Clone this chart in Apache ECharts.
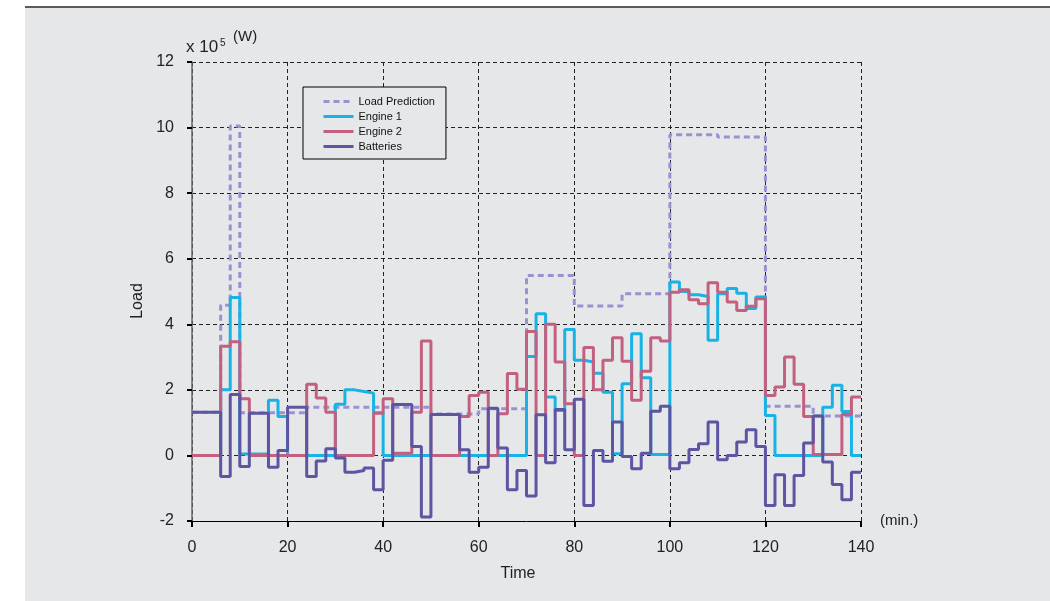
<!DOCTYPE html>
<html>
<head>
<meta charset="utf-8">
<script src="https://cdn.jsdelivr.net/npm/echarts@6/dist/echarts.min.js"></script>
<style>
  html, body { margin: 0; padding: 0; background: #ffffff; }
  #bg { position: absolute; left: 25px; top: 6px; width: 1025px; height: 595px; background: #e6e7e9; border-top: 2px solid #5a5a5a; }
  #chart { position: absolute; left: 0; top: 0; width: 1050px; height: 601px; }
</style>
</head>
<body>
<div id="bg"></div>
<div id="chart"></div>
<script>
// Step boundaries (minutes)
const stepTimes = [0,2,4,6,8,10,12,14,16,18,20,22,24,26,28,30,32,34,36,38,40,42,44,46,48,50,52,54,56,58,60,62,64,66,68,70,72,74,76,78,80,82,84,86,88,90,92,94,96,98,100,102,104,106,108,110,112,114,116,118,120,122,124,126,128,130,132,134,136,138,140];

// Values (x 10^5 W) held over each 2-minute step
const engine1 = [0,0,0,2.0,4.82,0.04,0.04,0.05,1.68,1.19,
  0,0,0,0,0,1.56,2.0,1.95,1.9,1.3,
  0,0,0,0,0,0,0,0,0,0,
  0,0,0,0,0,3.02,4.32,1.78,1.37,3.84,
  2.9,2.85,2.51,1.93,0.05,2.19,3.71,2.37,0.03,0.03,
  5.29,5.0,4.9,4.85,3.51,4.93,5.09,4.95,4.48,4.83,
  1.22,0,0,0,0,0,1.47,2.14,1.34,0];

const engine2 = [0,0,0,3.33,3.47,1.73,0,0,0,0,
  0,0,2.17,1.75,1.32,0,0,0,0,1.29,
  1.73,0.07,0.07,1.32,3.49,0,0,0,1.19,1.83,
  1.93,0,1.27,2.5,2.02,3.78,0,4.0,2.85,1.58,
  0,3.29,2.0,2.9,3.59,2.87,1.68,2.57,3.59,3.49,
  4.98,5.05,4.75,4.63,5.27,4.98,4.68,4.42,4.55,4.78,
  1.83,2.09,3.0,2.17,1.19,0.03,0.03,0.03,1.25,1.78];

const batteries = [1.32,1.32,1.32,-0.64,1.86,-0.34,1.29,1.29,-0.36,0.15,
  1.47,1.47,-0.64,-0.17,0.2,-0.08,-0.51,-0.46,-0.38,-1.05,
  -0.15,1.55,1.55,0.27,-1.88,1.25,1.25,1.25,0.17,-0.51,
  -0.36,1.44,0.23,-1.05,-0.46,-1.24,1.24,-0.22,1.4,0.17,
  1.71,-1.53,0.15,-0.18,1.02,-0.03,-0.41,0.07,1.35,1.5,
  -0.41,-0.22,0.18,0.36,1.02,-0.13,0,0.41,0.78,0.27,
  -1.53,-0.59,-1.53,-0.61,0.38,1.2,-0.2,-0.89,-1.35,-0.51];

// Load prediction: breakpoints and held values
const loadTimes = [0,6,8,10,24,50,60,70,80,90,100,110,120,130,140];
const loadValues = [1.32,4.58,10.05,1.3,1.47,1.26,1.42,5.49,4.56,4.93,9.78,9.71,1.5,1.2];

const seriesNames = ['Load Prediction','Engine 1','Engine 2','Batteries'];

function stepData(times, values) {
  const d = [];
  for (let i = 0; i < values.length; i++) d.push([times[i], values[i]]);
  d.push([times[values.length], values[values.length - 1]]);
  return d;
}

const FONT = '"Liberation Sans", Arial, Helvetica, sans-serif';
const chart = echarts.init(document.getElementById('chart'), null, {renderer: 'canvas'});

const option = {
  backgroundColor: 'transparent',
  animation: false,
  grid: { left: 192, right: 189, top: 62, bottom: 80, containLabel: false },
  legend: {
    data: seriesNames,
    orient: 'vertical',
    left: 303, top: 87,
    padding: [9, 11, 7, 19],
    itemWidth: 30, itemHeight: 12, itemGap: 4,
    backgroundColor: '#e6e7e9',
    borderColor: '#000', borderWidth: 1, borderRadius: 0,
    itemStyle: { opacity: 0, borderWidth: 0 },
    lineStyle: { width: 3 },
    textStyle: { fontSize: 11, color: '#111', fontFamily: FONT },
    selectedMode: false
  },
  xAxis: {
    type: 'value', min: 0, max: 140, interval: 20,
    name: '(min.)', nameLocation: 'end', nameGap: 19,
    nameTextStyle: { fontSize: 15, color: '#222', fontFamily: FONT, verticalAlign: 'middle' },
    axisLine: { show: true, onZero: false, lineStyle: { color: '#000', width: 1 } },
    axisTick: { show: true, inside: false, length: 6, lineStyle: { color: '#000', width: 2 } },
    axisLabel: { fontSize: 16, color: '#222', margin: 19, fontFamily: FONT },
    splitLine: { show: true, lineStyle: { color: '#222', width: 1, type: [4, 3] } }
  },
  yAxis: {
    type: 'value', min: -2, max: 12, interval: 2,
    axisLine: { show: true, onZero: false, lineStyle: { color: '#666', width: 1.5 } },
    axisTick: { show: true, inside: false, length: 5, lineStyle: { color: '#000', width: 2 } },
    axisLabel: { fontSize: 16, color: '#222', margin: 18, fontFamily: FONT },
    splitLine: { show: true, lineStyle: { color: '#222', width: 1, type: [4, 3] } }
  },
  graphic: [
    { type: 'text', x: 518, y: 574, style: { text: 'Time', font: '16px ' + FONT, fill: '#222', textAlign: 'center', textVerticalAlign: 'middle', align: 'center', verticalAlign: 'middle' } },
    { type: 'text', x: 138, y: 301, rotation: Math.PI / 2, style: { text: 'Load', font: '16px ' + FONT, fill: '#222', textAlign: 'center', textVerticalAlign: 'middle', align: 'center', verticalAlign: 'middle' } },
    { type: 'text', x: 186, y: 47.5, style: { text: 'x 10', font: '17px ' + FONT, fill: '#222', textAlign: 'left', textVerticalAlign: 'middle', align: 'left', verticalAlign: 'middle' } },
    { type: 'text', x: 220, y: 43.5, style: { text: '5', font: '10px ' + FONT, fill: '#222', textAlign: 'left', textVerticalAlign: 'middle', align: 'left', verticalAlign: 'middle' } },
    { type: 'text', x: 233, y: 36.5, style: { text: '(W)', font: '15px ' + FONT, fill: '#222', textAlign: 'left', textVerticalAlign: 'middle', align: 'left', verticalAlign: 'middle' } }
  ],
  series: [
    { name: 'Load Prediction', type: 'line', step: 'end', symbol: 'none', showSymbol: false,
      data: stepData(loadTimes, loadValues), z: 2,
      lineStyle: { color: '#9b91d2', width: 3, type: [6, 4] }, itemStyle: { color: '#9b91d2' } },
    { name: 'Engine 1', type: 'line', step: 'end', symbol: 'none', showSymbol: false,
      data: stepData(stepTimes, engine1), z: 3,
      lineStyle: { color: '#19b2e4', width: 3 }, itemStyle: { color: '#19b2e4' } },
    { name: 'Engine 2', type: 'line', step: 'end', symbol: 'none', showSymbol: false,
      data: stepData(stepTimes, engine2), z: 4,
      lineStyle: { color: '#c4607f', width: 3 }, itemStyle: { color: '#c4607f' } },
    { name: 'Batteries', type: 'line', step: 'end', symbol: 'none', showSymbol: false,
      data: stepData(stepTimes, batteries), z: 5,
      lineStyle: { color: '#5b55a2', width: 3 }, itemStyle: { color: '#5b55a2' } }
  ]
};
chart.setOption(option);
</script>
</body>
</html>
